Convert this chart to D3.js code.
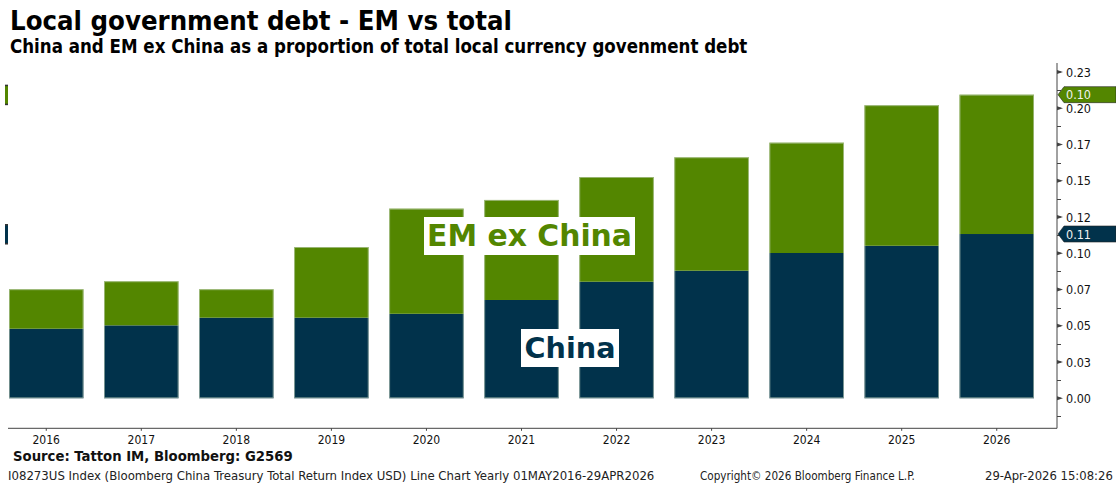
<!DOCTYPE html>
<html><head><meta charset="utf-8">
<script src="https://cdn.jsdelivr.net/npm/d3@7"></script>
<style>body{margin:0;background:#fff}svg{display:block}</style>
</head><body>
<svg id="c" width="1116" height="483"></svg>
<script>
const years = ["2016","2017","2018","2019","2020","2021","2022","2023","2024","2025","2026"];
const china = [0.0480,0.0503,0.0556,0.0556,0.0583,0.0678,0.0804,0.0880,0.1002,0.1052,0.1133];
const emExChina = [0.0272,0.0304,0.0196,0.0487,0.0725,0.0690,0.0722,0.0782,0.0761,0.0969,0.0961];
const yTickValues = [0,0.025,0.05,0.075,0.1,0.125,0.15,0.175,0.2,0.225];
const yTickLabels = ["0.00","0.03","0.05","0.07","0.10","0.12","0.15","0.17","0.20","0.23"];
const yMinorTicks = [-0.0125,0.0125,0.0375,0.0625,0.0875,0.1125,0.1375,0.1625,0.1875,0.2125];

const GREEN = "#538600", NAVY = "#01324B";
const FONT = "DejaVu Sans, Verdana, sans-serif";
const CFONT = "'DejaVu Sans Condensed', 'DejaVu Sans', sans-serif";
const svg = d3.select("#c");

const x = d3.scaleBand().domain(years).range([9,1034]).paddingInner(0.216).paddingOuter(0);
const y = d3.scaleLinear().domain([-0.02069,0.23124]).range([428.3,63]);

function fit(sel, w){
  const n = sel.node(); const fs = parseFloat(sel.attr("font-size"));
  const m = n.getComputedTextLength(); sel.attr("font-size", fs*w/m);
  return sel;
}
function ctext(){ return svg.append("text").attr("font-family",CFONT).attr("font-stretch","condensed"); }

// titles
fit(ctext().attr("x",10).attr("y",30).attr("font-weight","bold")
  .attr("font-size",22).text("Local government debt - EM vs total"),502);
fit(ctext().attr("x",10).attr("y",53).attr("font-weight","bold")
  .attr("font-size",15).text("China and EM ex China as a proportion of total local currency govenment debt"),738);

// stacked data
const rows = years.map((yr,i)=>({year:yr, china:china[i], em:emExChina[i]}));
const stack = d3.stack().keys(["china","em"])(rows);
const colors = {china:NAVY, em:GREEN};
const g = svg.append("g");
stack.forEach(layer=>{
  g.selectAll(null).data(layer).join("rect")
    .attr("x",d=>x(d.data.year)).attr("width",x.bandwidth())
    .attr("y",d=>y(d[1])).attr("height",d=>y(d[0])-y(d[1]))
    .attr("fill",colors[layer.key]);
});
g.selectAll(null).data(rows).join("rect")
  .attr("x",d=>x(d.year)+0.5).attr("width",x.bandwidth()-1)
  .attr("y",d=>y(d.china+d.em)+0.5).attr("height",d=>y(0)-y(d.china+d.em)-1)
  .attr("fill","none").attr("stroke","#c8d6c0").attr("stroke-width",0.8).attr("opacity",0.7);

// frame
const axX = 1057, yb = y.range()[0], yt = y.range()[1];
svg.append("line").attr("x1",8).attr("x2",axX).attr("y1",yb).attr("y2",yb).attr("stroke","#444").attr("stroke-width",1);
svg.append("line").attr("x1",axX).attr("x2",axX).attr("y1",yt).attr("y2",yb).attr("stroke","#444").attr("stroke-width",1);

// right axis ticks
yTickValues.forEach((v,i)=>{
  const yy = y(v);
  svg.append("path").attr("d",`M${axX},${yy-2}L${axX+6},${yy}L${axX},${yy+2}Z`).attr("fill","#444");
  svg.append("line").attr("x1",axX).attr("x2",axX+4).attr("y1",yy).attr("y2",yy).attr("stroke","#444");
  ctext().attr("x",1066).attr("y",yy+4.5).attr("font-size",12.8)
    .attr("textLength",25).attr("lengthAdjust","spacingAndGlyphs")
    .attr("fill","#111").text(yTickLabels[i]);
});
yMinorTicks.forEach(v=>{
  const yy = Math.round(y(v))+0.5;
  svg.append("line").attr("x1",axX).attr("x2",axX+4).attr("y1",yy).attr("y2",yy).attr("stroke","#444");
});

// x axis labels and ticks
years.forEach(yr=>{
  const cx = x(yr)+x.bandwidth()/2;
  svg.append("line").attr("x1",cx).attr("x2",cx).attr("y1",yb).attr("y2",yb+2.5).attr("stroke","#444");
  ctext().attr("x",cx).attr("y",443.5).attr("text-anchor","middle")
    .attr("font-size",13).attr("textLength",27.5).attr("lengthAdjust","spacingAndGlyphs")
    .attr("fill","#111").text(yr);
});

// right-side value flags
const last = rows.length-1;
const flags = [
  {v: china[last]+emExChina[last], label: d3.format(".2f")(emExChina[last]), c: GREEN},
  {v: china[last], label: d3.format(".2f")(china[last]), c: NAVY}
];
flags.forEach(f=>{
  const yy = y(f.v);
  svg.append("path").attr("d",`M${axX+1},${yy}L${axX+7},${yy-8}L1116,${yy-8}L1116,${yy+8}L${axX+7},${yy+8}Z`)
    .attr("fill",f.c).attr("stroke","#222").attr("stroke-width",0.6);
  ctext().attr("x",1066).attr("y",yy+4.5).attr("font-size",12.8)
    .attr("textLength",25).attr("lengthAdjust","spacingAndGlyphs")
    .attr("fill","#f2f2f2").text(f.label);
  svg.append("rect").attr("x",5).attr("y",yy-9).attr("width",3).attr("height",19).attr("fill",f.c);
  svg.append("rect").attr("x",5).attr("y",yy-10).attr("width",3).attr("height",1.5).attr("fill","#333");
  svg.append("rect").attr("x",5).attr("y",yy+9).attr("width",3).attr("height",1.5).attr("fill","#333");
});

// in-chart labels
function boxLabel(txt, bx, by, bw, bh, col, tw){
  svg.append("rect").attr("x",bx).attr("y",by).attr("width",bw).attr("height",bh).attr("fill","#fff");
  const t = svg.append("text").attr("x",bx+bw/2).attr("y",by+bh/2+10).attr("text-anchor","middle")
    .attr("font-family",FONT).attr("font-weight","bold").attr("font-size",27).attr("fill",col).text(txt);
  fit(t,tw);
}
boxLabel("EM ex China",424,217,211,38,GREEN,205);
boxLabel("China",521,329,98,38,NAVY,91);

// footer
fit(ctext().attr("x",13).attr("y",461).attr("font-weight","bold")
  .attr("font-size",13).attr("fill","#111").text("Source: Tatton IM, Bloomberg: G2569"),280);
fit(ctext().attr("x",8).attr("y",480).attr("font-size",11)
  .attr("fill","#222").text("I08273US Index (Bloomberg China Treasury Total Return Index USD) Line Chart Yearly 01MAY2016-29APR2026"),647);
fit(ctext().attr("x",700).attr("y",480).attr("font-size",11)
  .attr("fill","#222").text("Copyright\u00A9 2026 Bloomberg Finance L.P."),215);
fit(ctext().attr("x",985).attr("y",480).attr("font-size",11)
  .attr("fill","#222").text("29-Apr-2026 15:08:26"),128);
</script>
</body></html>
